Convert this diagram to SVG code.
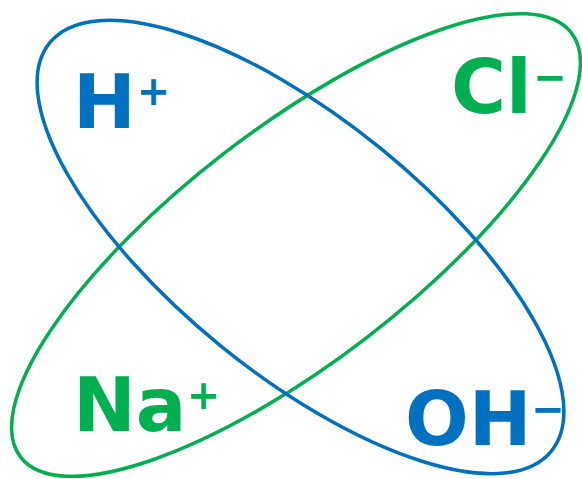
<svg xmlns="http://www.w3.org/2000/svg" width="582" height="479" viewBox="0 0 582 479">
<style>
.ring{fill:none;stroke-width:3.5}
.blue{fill:#0070C0}
.green{fill:#00B050}
.ion{font-family:"DejaVu Sans",sans-serif;font-weight:bold;font-size:75px}
.sup{font-family:"DejaVu Sans",sans-serif;font-weight:bold;font-size:40px;text-anchor:middle}
</style>
<rect width="582" height="479" fill="#ffffff"/>
<g id="ring-green">
<ellipse class="ring" stroke="#00B050" cx="296" cy="245" rx="347.6" ry="116.5" transform="rotate(-37.6 296 245)"/>
</g>
<g id="ring-blue">
<ellipse class="ring" stroke="#0070C0" cx="300.5" cy="247" rx="323.4" ry="127.1" transform="rotate(39.13 300.5 247)"/>
</g>
<g id="ion-H">
<text class="ion blue" x="73" y="128">H</text>
<text class="sup blue" x="153.5" y="105">+</text>
</g>
<g id="ion-Cl">
<text class="ion green" x="451" y="113">Cl</text>
<text class="sup green" x="550" y="91">−</text>
</g>
<g id="ion-Na">
<text class="ion green" x="73" y="431">Na</text>
<text class="sup green" x="203.5" y="409">+</text>
</g>
<g id="ion-OH">
<text class="ion blue" x="405" y="445">OH</text>
<text class="sup blue" x="548" y="423">−</text>
</g>
</svg>
